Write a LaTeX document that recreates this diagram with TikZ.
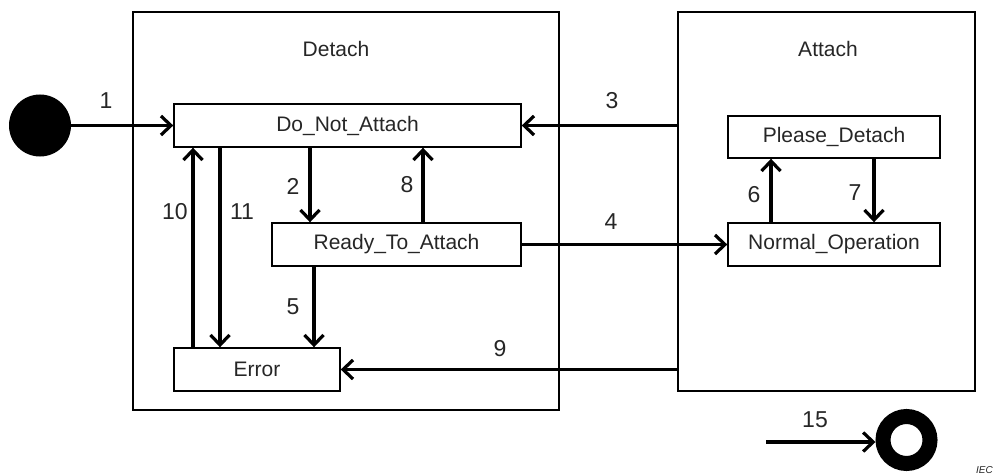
\documentclass[tikz,border=0pt]{standalone}
\usepackage{fontspec}
\setmainfont{Liberation Sans}
\usetikzlibrary{arrows.meta}
\begin{document}
\begin{tikzpicture}[x=1pt,y=-1pt,
  txt/.style={font=\fontsize{21}{25}\selectfont, text=black!85},
  num/.style={font=\fontsize{23}{26}\selectfont, text=black!85, inner sep=0pt},
  box/.style={draw, line width=1.4pt, inner sep=0pt, txt},
  region/.style={draw, line width=1.4pt, inner sep=0pt},
  arr/.style={line width=3.5pt, -{Straight Barb[length=10pt,width=19pt,line width=3.2pt]}}
]
\useasboundingbox (0,0) rectangle (1003,476);
% regions
\node[region, minimum width=426, minimum height=398] (det) at (346,211) {};
\node[region, minimum width=297, minimum height=379] (att) at (826.5,201.5) {};
\node[txt] (detl) at (336,49) {Detach};
\node[txt] (attl) at (828,49) {Attach};
% states
\node[box, minimum width=347, minimum height=43] (dna) at (347.5,125.5) {Do\_Not\_Attach};
\node[box, minimum width=249, minimum height=43] (rta) at (396.5,244.5) {Ready\_To\_Attach};
\node[box, minimum width=166, minimum height=43] (err) at (257,369.5) {Error};
\node[box, minimum width=212, minimum height=42] (pd) at (834,137) {Please\_Detach};
\node[box, minimum width=212, minimum height=43] (nop) at (834,244.5) {Normal\_Operation};
% pseudo states
\node[circle, fill=black, minimum size=62, inner sep=0pt, outer sep=0pt] (init) at (40,125.5) {};
\node[circle, draw=black, line width=15pt, minimum size=47, inner sep=0pt] (fin) at (906.5,440) {};
% x positions
\coordinate (x10) at (193,0);
\coordinate (x11) at (220,0);
\coordinate (x2) at (310,0);
\coordinate (x5) at (314,0);
\coordinate (x8) at (423,0);
\coordinate (x6) at (771,0);
\coordinate (x7) at (874,0);
\coordinate (s15) at (766,442);
% transitions
\draw[arr] (init.east) -- (dna.west);
\draw[arr] (att.west |- dna.east) -- (dna.east);
\draw[arr] (dna.south -| x2) -- (rta.north -| x2);
\draw[arr] (rta.north -| x8) -- (dna.south -| x8);
\draw[arr] (err.north -| x10) -- (dna.south -| x10);
\draw[arr] (dna.south -| x11) -- (err.north -| x11);
\draw[arr] (rta.south -| x5) -- (err.north -| x5);
\draw[arr] (rta.east) -- (nop.west);
\draw[arr] (att.west |- err.east) -- (err.east);
\draw[arr] (nop.north -| x6) -- (pd.south -| x6);
\draw[arr] (pd.south -| x7) -- (nop.north -| x7);
\draw[arr] (s15) -- (s15 -| fin.west);
% labels
\node[num] (l1) at (106,101) {1};
\node[num] (l3) at (612,101) {3};
\node[num] (l2) at (293,186) {2};
\node[num] (l8) at (407,185) {8};
\node[num] (l10) at (175,212) {10};
\node[num] (l11) at (242,212) {11};
\node[num] (l4) at (611,222) {4};
\node[num] (l5) at (293,307) {5};
\node[num] (l9) at (500,349) {9};
\node[num] (l6) at (754,195) {6};
\node[num] (l7) at (855,193) {7};
\node[num] (l15) at (815,420) {15};
\node[anchor=base west, inner sep=0pt, font=\itshape\fontsize{10}{12}\selectfont, text=black!85] (iec) at (976,473) {IEC};
\end{tikzpicture}
\end{document}
